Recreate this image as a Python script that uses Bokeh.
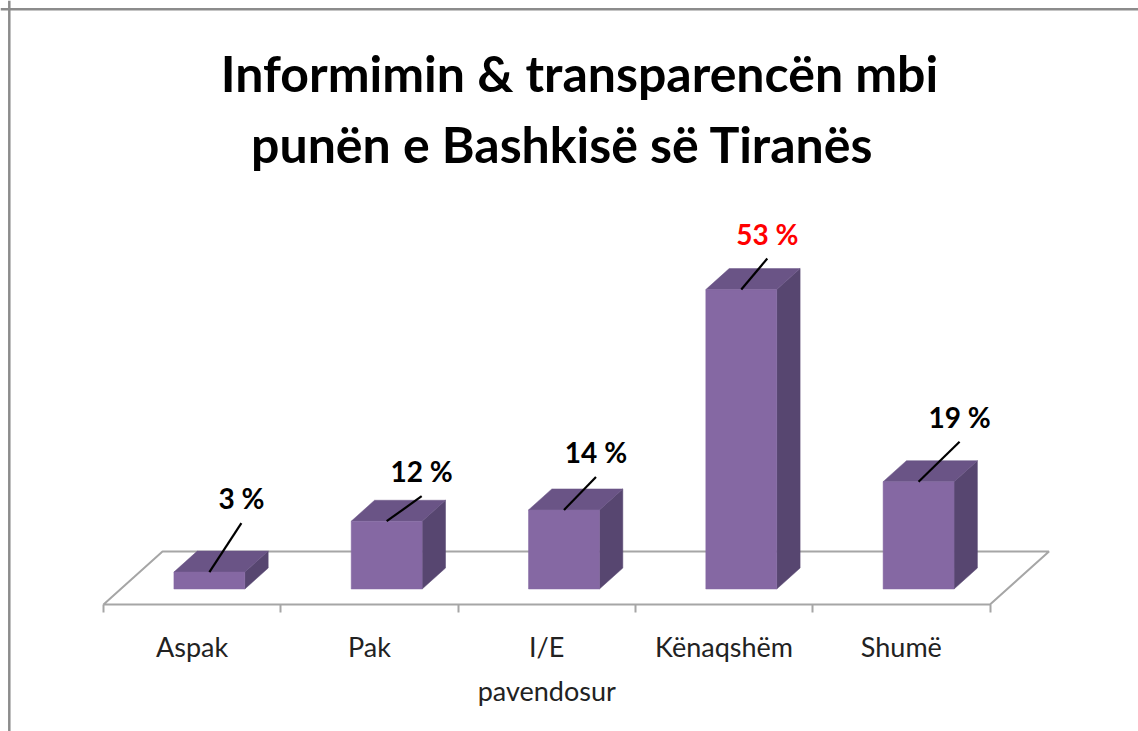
from bokeh.plotting import figure
from bokeh.models import Range1d, FixedTicker, Span, Label
from bokeh.embed import file_html
from bokeh.resources import INLINE
from bokeh.core.properties import value

# ---------------- data ----------------
title_lines = ["Informimin & transparencën mbi", "punën e Bashkisë së Tiranës"]
categories = ["Aspak", "Pak", "I/E\npavendosur", "Kënaqshëm", "Shumë"]
values = [3, 12, 14, 53, 19]
label_texts = ["3 %", "12 %", "14 %", "53 %", "19 %"]
highlight = "Kënaqshëm"

# ---------------- layout / style ----------------
W, H = 1138, 731
FLOOR_FRONT_Y = 604   # canvas px of floor front edge
FLOOR_LEFT_X = 103    # canvas px of floor front-left corner
CW = 177.3            # px per category
PY = 5.65             # px per percent point
DEPTH_PX = (59, 53)
DX = DEPTH_PX[0] / CW
DY = DEPTH_PX[1] / PY
ZF, ZB = 0.292, 0.688
BAR_W = 0.40
leader_px = [(32, -49), (35, -25), (32, -33), (26, -31), (41, -40)]
LABEL_GAP_PX = 25
BORDER_PX = 8.8

FRONT = "#8568A3"
TOP = "#6A5486"
SIDE = "#574670"
GRID = "#A6A6A6"
FONT = "Lato"

x0 = -0.5 - FLOOR_LEFT_X / CW
y0 = -(H - FLOOR_FRONT_Y) / PY
p = figure(width=W, height=H, title=None,
           x_range=Range1d(x0, x0 + W / CW), y_range=Range1d(y0, FLOOR_FRONT_Y / PY),
           output_backend="svg", toolbar_location=None, y_axis_location=None,
           min_border=0, outline_line_color=None,
           background_fill_color="white", border_fill_color="white")
p.grid.visible = False

n = len(categories)
# floor
p.patch([-0.5, n - 0.5, n - 0.5 + DX, -0.5 + DX], [0, 0, DY, DY],
        fill_color="white", line_color=GRID, line_width=2)

fx, fy, tx, ty, sx, sy = [], [], [], [], [], []
lx0, ly0, lx1, ly1, tlx, tly, tcol = [], [], [], [], [], [], []
d, e = (ZB - ZF) * DX, (ZB - ZF) * DY
for i, v in enumerate(values):
    xc = i + ZF * DX
    xl, xr = xc - BAR_W / 2, xc + BAR_W / 2
    yb = ZF * DY
    yt = yb + v
    fx.append([xl, xr, xr, xl]); fy.append([yb, yb, yt, yt])
    tx.append([xl, xr, xr + d, xl + d]); ty.append([yt, yt, yt + e, yt + e])
    sx.append([xr, xr + d, xr + d, xr]); sy.append([yb, yb + e, yt + e, yt])
    ddx, ddy = leader_px[i]
    ex, ey = xc + ddx / CW, yt - ddy / PY
    lx0.append(xc); ly0.append(yt); lx1.append(ex); ly1.append(ey)
    tlx.append(ex); tly.append(ey + LABEL_GAP_PX / PY)
    tcol.append("#FF0000" if categories[i] == highlight else "black")

p.patches(sx, sy, fill_color=SIDE, line_color=SIDE, line_width=0.5)
p.patches(tx, ty, fill_color=TOP, line_color=TOP, line_width=0.5)
p.patches(fx, fy, fill_color=FRONT, line_color=FRONT, line_width=0.5)
p.segment(lx0, ly0, lx1, ly1, line_color="black", line_width=2.2)
p.text(tlx, tly, text=label_texts, text_color=tcol, text_align="center",
       text_baseline="alphabetic", text_font=value(FONT), text_font_style="bold",
       text_font_size="28px")

# axis, drawn along the floor's front edge
ax = p.xaxis[0]
ax.fixed_location = 0
ax.ticker = FixedTicker(ticks=list(range(n)), minor_ticks=[i - 0.5 for i in range(n + 1)])
ax.major_label_overrides = {i: c for i, c in enumerate(categories)}
ax.axis_line_color = None
ax.major_tick_line_color = None
ax.major_tick_out = 0
ax.major_tick_in = 0
ax.minor_tick_out = 8
ax.minor_tick_in = 0
ax.minor_tick_line_color = GRID
ax.minor_tick_line_width = 2
ax.major_label_standoff = 17
ax.major_label_text_font = FONT
ax.major_label_text_font_size = "27px"
ax.major_label_text_color = "#222222"
ax.major_label_text_line_height = 1.35

# chart border (top and left)
p.add_layout(Span(location=(FLOOR_FRONT_Y - BORDER_PX) / PY, dimension="width",
                  line_color="#8C8C8C", line_width=2.5))
p.add_layout(Span(location=x0 + BORDER_PX / CW, dimension="height",
                  line_color="#8C8C8C", line_width=2.5))

# title
title_pos = [(579, H - 72), (562, H - 143)]
for t, (px_, py_) in zip(title_lines, title_pos):
    p.add_layout(Label(x=px_, y=py_, x_units="screen", y_units="screen", text=t,
                       text_align="center", text_baseline="alphabetic",
                       text_font=FONT, text_font_style="bold",
                       text_font_size="50px", text_color="black"))

open("out.html", "w").write(file_html(p, INLINE))
